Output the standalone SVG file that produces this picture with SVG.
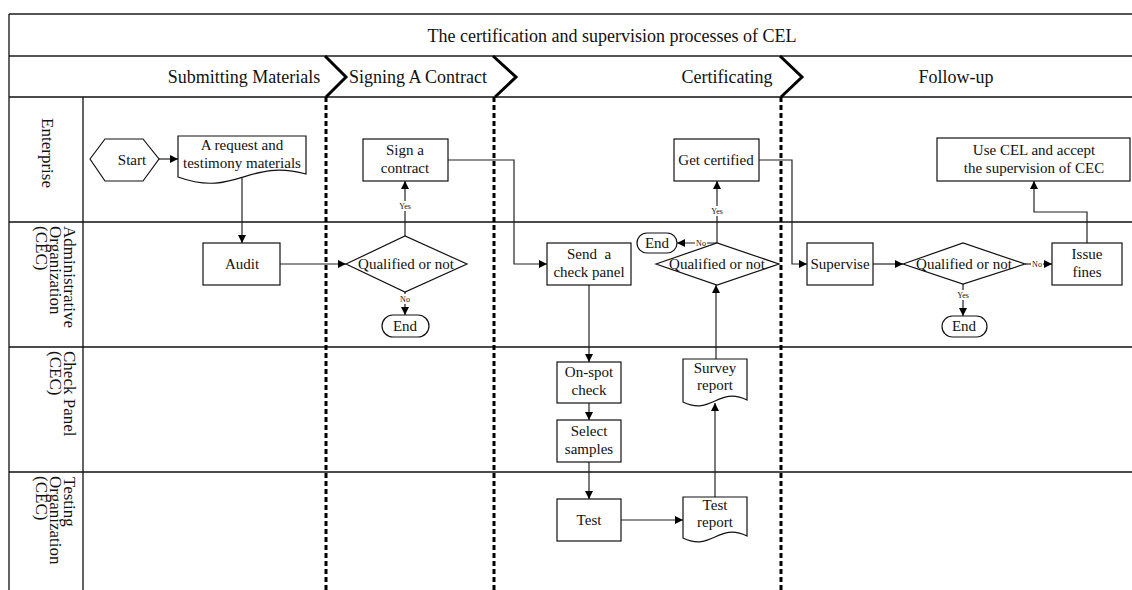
<svg xmlns="http://www.w3.org/2000/svg" width="1132" height="590" viewBox="0 0 1132 590">
<style>
text{font-family:"Liberation Serif","Times New Roman",serif;fill:#111}
.t{font-size:18px}
.n{font-size:15px;text-anchor:middle}
.lane{font-size:17px}
.lbl{font-size:8px;text-anchor:middle}
.box{fill:#fff;stroke:#111;stroke-width:1.2}
.frame{stroke:#111;stroke-width:1.3;fill:none}
.frame2{stroke:#555;stroke-width:1.8;fill:none}
.dot{stroke:#000;stroke-width:3;stroke-dasharray:5 3;fill:none}
.chev{stroke:#000;stroke-width:3;fill:none;stroke-linejoin:miter}
.c{stroke:#222;stroke-width:1.2;fill:none}
.ca{stroke:#222;stroke-width:1.2;fill:none;marker-end:url(#ah)}
.lb{fill:#fff}
</style>
<defs>
<marker id="ah" viewBox="0 0 10 10" refX="10" refY="5" markerUnits="userSpaceOnUse" markerWidth="9" markerHeight="8" orient="auto">
<path d="M0,0 L10,5 L0,10 z" fill="#000"/>
</marker>
</defs>
<rect width="1132" height="590" fill="#fff"/>

<g id="frame">
<path class="frame2" d="M9,14 H1132 M9,56 H1132"/>
<path class="frame" d="M9,14 V590 M9,97 H1132 M9,222 H1132 M9,347 H1132 M9,472 H1132 M83,97 V590"/>
<text class="t" x="612" y="42" text-anchor="middle">The certification and supervision processes of CEL</text>
</g>

<g id="phases">
<text class="t" x="244" y="83" text-anchor="middle">Submitting Materials</text>
<text class="t" x="418" y="83" text-anchor="middle">Signing A Contract</text>
<text class="t" x="727" y="83" text-anchor="middle">Certificating</text>
<text class="t" x="956" y="83" text-anchor="middle">Follow-up</text>
<path class="chev" d="M325,56 L346,77 L326,97"/>
<path class="chev" d="M493,56 L516,77 L495,97"/>
<path class="chev" d="M780,56 L802,77 L781,97"/>
<path class="dot" d="M326,97 V590 M494,97 V590 M781,97 V590"/>
</g>

<g id="lanes">
<text class="lane" transform="translate(42,153) rotate(90)" text-anchor="middle">Enterprise</text>
<text class="lane" transform="translate(64,226) rotate(90)">Administrative</text>
<text class="lane" transform="translate(50,226) rotate(90)">Organization</text>
<text class="lane" transform="translate(36,226) rotate(90)">(CEC)</text>
<text class="lane" transform="translate(64,351) rotate(90)">Check Panel</text>
<text class="lane" transform="translate(50,351) rotate(90)">(CEC)</text>
<text class="lane" transform="translate(64,477) rotate(90)">Testing</text>
<text class="lane" transform="translate(50,476) rotate(90)">Organization</text>
<text class="lane" transform="translate(36,476) rotate(90)">(CEC)</text>
</g>

<g id="connectors">
<path class="ca" d="M159,159 H178"/>
<path class="ca" d="M242,178 V243"/>
<path class="ca" d="M280,264 H346"/>
<path class="ca" d="M405,236 V181"/>
<path class="ca" d="M405,292 V315"/>
<path class="ca" d="M448,160 H514 V264 H547"/>
<path class="ca" d="M589,285 V362"/>
<path class="ca" d="M589,403 V420"/>
<path class="ca" d="M589,462 V499"/>
<path class="ca" d="M621,520 H683"/>
<path class="ca" d="M715,497 V403"/>
<path class="ca" d="M716,359 V285"/>
<path class="ca" d="M717,243 V181"/>
<path class="ca" d="M717,243 H677"/>
<path class="ca" d="M759,160 H792 V264 H807"/>
<path class="ca" d="M873,264 H903"/>
<path class="ca" d="M1025,264 H1052"/>
<path class="ca" d="M963,284 V316"/>
<path class="ca" d="M1087,243 V212 H1034 V181"/>
<rect class="lb" x="397" y="201" width="16" height="10"/>
<text class="lbl" x="405" y="209">Yes</text>
<rect class="lb" x="399" y="294" width="12" height="10"/>
<text class="lbl" x="405" y="302">No</text>
<rect class="lb" x="709" y="206" width="16" height="10"/>
<text class="lbl" x="717" y="214">Yes</text>
<rect class="lb" x="695" y="238" width="12" height="10"/>
<text class="lbl" x="701" y="246">No</text>
<rect class="lb" x="955" y="290" width="16" height="10"/>
<text class="lbl" x="963" y="298">Yes</text>
<rect class="lb" x="1031" y="259" width="12" height="10"/>
<text class="lbl" x="1037" y="267">No</text>
</g>

<g id="start">
<polygon class="box" points="90,159 105,139 143,139 159,159 143,181 105,181"/>
<text class="n" x="132" y="165">Start</text>
</g>
<g id="request">
<path class="box" d="M178,136 H306 V174 C248,158 236,198 178,177 Z"/>
<text class="n" x="242" y="150">A request and</text>
<text class="n" x="242" y="168">testimony materials</text>
</g>
<g id="audit">
<rect class="box" x="203" y="243" width="77" height="42"/>
<text class="n" x="242" y="269">Audit</text>
</g>
<g id="qualified1">
<polygon class="box" points="346,264 405,236 467,264 405,292"/>
<text class="n" x="406" y="269">Qualified or not</text>
</g>
<g id="end1">
<rect class="box" x="382" y="315" width="47" height="22" rx="11"/>
<text class="n" x="405" y="331">End</text>
</g>
<g id="sign">
<rect class="box" x="363" y="139" width="85" height="42"/>
<text class="n" x="405" y="155">Sign a</text>
<text class="n" x="405" y="173">contract</text>
</g>
<g id="sendpanel">
<rect class="box" x="547" y="243" width="84" height="42"/>
<text class="n" x="589" y="259" style="white-space:pre">Send  a</text>
<text class="n" x="589" y="277">check panel</text>
</g>
<g id="onspot">
<rect class="box" x="557" y="362" width="64" height="41"/>
<text class="n" x="589" y="377">On-spot</text>
<text class="n" x="589" y="395">check</text>
</g>
<g id="select">
<rect class="box" x="557" y="420" width="64" height="42"/>
<text class="n" x="589" y="436">Select</text>
<text class="n" x="589" y="454">samples</text>
</g>
<g id="test">
<rect class="box" x="557" y="499" width="64" height="42"/>
<text class="n" x="589" y="525">Test</text>
</g>
<g id="testreport">
<path class="box" d="M683,497 H747 V536 C718,522 712,552 683,538 Z"/>
<text class="n" x="715" y="510">Test</text>
<text class="n" x="715" y="527">report</text>
</g>
<g id="surveyreport">
<path class="box" d="M683,359 H747 V400 C718,386 712,416 683,402 Z"/>
<text class="n" x="715" y="373">Survey</text>
<text class="n" x="715" y="390">report</text>
</g>
<g id="qualified2">
<polygon class="box" points="656,264 717,243 779,264 717,285"/>
<text class="n" x="717" y="269">Qualified or not</text>
</g>
<g id="end2">
<rect class="box" x="637" y="233" width="40" height="20" rx="10"/>
<text class="n" x="657" y="248">End</text>
</g>
<g id="certified">
<rect class="box" x="674" y="139" width="85" height="42"/>
<text class="n" x="716" y="165">Get certified</text>
</g>
<g id="supervise">
<rect class="box" x="807" y="243" width="66" height="42"/>
<text class="n" x="840" y="269">Supervise</text>
</g>
<g id="qualified3">
<polygon class="box" points="903,264 963,243 1025,264 963,284"/>
<text class="n" x="964" y="269">Qualified or not</text>
</g>
<g id="end3">
<rect class="box" x="942" y="316" width="45" height="21" rx="10.5"/>
<text class="n" x="964" y="331">End</text>
</g>
<g id="fines">
<rect class="box" x="1052" y="243" width="70" height="42"/>
<text class="n" x="1087" y="259">Issue</text>
<text class="n" x="1087" y="277">fines</text>
</g>
<g id="usecel">
<rect class="box" x="937" y="138" width="193" height="43"/>
<text class="n" x="1034" y="155">Use CEL and accept</text>
<text class="n" x="1034" y="173">the supervision of CEC</text>
</g>
</svg>
